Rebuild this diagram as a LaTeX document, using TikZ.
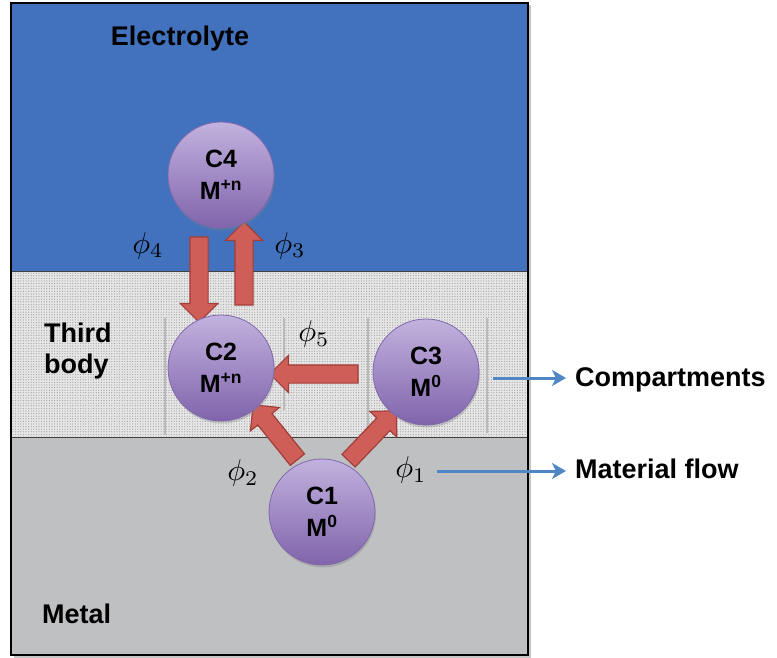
\documentclass[tikz,border=0pt]{standalone}
\usepackage[no-math]{fontspec}
\setmainfont{Liberation Sans}
\usetikzlibrary{shapes.arrows,shadows,calc,patterns.meta,arrows.meta}
\definecolor{elec}{RGB}{66,114,189}
\definecolor{metal}{RGB}{191,192,194}
\definecolor{third}{RGB}{230,230,230}
\definecolor{ctop}{RGB}{194,178,222}
\definecolor{cbot}{RGB}{128,100,172}
\definecolor{cline}{RGB}{128,104,172}
\definecolor{afill}{RGB}{207,94,88}
\definecolor{aline}{RGB}{160,62,58}
\definecolor{blueln}{RGB}{79,135,197}
\pgfdeclarelayer{bg}
\pgfdeclarelayer{mid}
\pgfsetlayers{bg,mid,main}
\newcommand{\philabel}[1]{\scalebox{3.0}{$\phi_{#1}$}}
\tikzset{
  compcircle/.style={circle, minimum size=106pt, inner sep=0pt, draw=cline, line width=0.8pt,
    top color=ctop, bottom color=cbot, align=center,
    font=\fontsize{25}{32}\selectfont\bfseries,
    drop shadow={opacity=0.35, shadow xshift=1pt, shadow yshift=-2.5pt}},
  blockarrow/.style={single arrow, draw=aline, fill=afill, line width=1.2pt,
    inner xsep=0pt, inner ysep=8.5pt, minimum width=0pt, single arrow head extend=9.5pt},
  lbl/.style={inner sep=0pt, font=\fontsize{27}{31}\selectfont\bfseries},
  philbl/.style={inner sep=0pt},
  bluearrow/.style={draw=blueln, line width=3pt, -{Stealth[length=14pt,width=16pt,inset=4pt]}},
  divider/.style={draw=gray!55, line width=1.6pt}
}
\newcommand{\flowarrow}[3]{%
  \path let \p1=(#1), \p2=(#2), \n1={atan2(\y2-\y1,\x2-\x1)}, \n2={veclen(\x2-\x1,\y2-\y1)} in
    node[blockarrow, minimum height=\n2, rotate=\n1] (#3) at ($(#1)!0.5!(#2)$) {};}
\begin{document}
\begin{tikzpicture}[x=1pt,y=-1pt]
\useasboundingbox (0,0) rectangle (777,658);
\begin{pgfonlayer}{bg}
  \fill[gray!45] (13.5,5.5) rectangle (530.5,657.5);
  \fill[metal] (11,437) rectangle (528,655);
  \fill[third] (11,271) rectangle (528,437);
  \fill[pattern={Dots[radius=0.6pt, distance=2.6pt]}, pattern color=gray!75] (11,271) rectangle (528,437);
  \fill[elec] (11,3) rectangle (528,271);
  \draw[black!75, line width=0.8pt] (11,271) -- (528,271);
  \draw[black!75, line width=1pt] (11,437) -- (528,437);
  \draw[black, line width=1.5pt] (11,3) rectangle (528,655);
  \draw[divider] (165,318) -- (165,435);
  \draw[divider] (284,318) -- (284,410);
  \draw[divider] (368,318) -- (368,435);
  \draw[divider] (487,318) -- (487,433);
\end{pgfonlayer}

% text labels
\node[lbl, anchor=base] (electrolyte) at (180,46) {Electrolyte};
\node[lbl, anchor=west, align=left] (thirdbody) at (44,351) {Third\\body};
\node[lbl, anchor=base west] (metal) at (42,623) {Metal};
\node[lbl, anchor=base west] (comptxt) at (575,386) {Compartments};
\node[lbl, anchor=base west] (mattxt) at (575,478) {Material flow};

% compartments
\node[compcircle] (c4) at (221,175) {C4\\M\textsuperscript{+n}};
\node[compcircle] (c2) at (221,368) {C2\\M\textsuperscript{+n}};
\node[compcircle] (c3) at (426,372) {C3\\M\textsuperscript{0}};
\node[compcircle] (c1) at (322,512) {C1\\M\textsuperscript{0}};

% flows
\coordinate (d4a) at ([xshift=-22pt,yshift=-4pt]c4.south);
\coordinate (d4b) at ([xshift=-22pt,yshift=-3pt]c2.north);
\coordinate (u3a) at ([xshift=23pt,yshift=5pt]c2.north);
\coordinate (u3b) at ([xshift=23pt,yshift=2pt]c4.south);
\coordinate (l5a) at ([xshift=-10pt,yshift=-2pt]c3.west);
\coordinate (l5b) at ([yshift=-6pt]c2.east);
\begin{pgfonlayer}{mid}
  \flowarrow{d4a}{d4b}{f4}
  \flowarrow{u3a}{u3b}{f3}
  \flowarrow{l5a}{l5b}{f5}
  \flowarrow{c1.114}{c2.-49}{f2}
  \flowarrow{c1.64}{c3.232}{f1}
\end{pgfonlayer}

% phi labels
\node[philbl] (phi4) at (148,246) {\philabel{4}};
\node[philbl] (phi3) at (290,246) {\philabel{3}};
\node[philbl] (phi5) at (314,334) {\philabel{5}};
\node[philbl] (phi2) at (243,473) {\philabel{2}};
\node[philbl] (phi1) at (411,470) {\philabel{1}};

% legend connectors
\coordinate (cstart) at (493,378);
\coordinate (mstart) at (437,471);
\draw[bluearrow, shorten >=9pt] (cstart) -- (cstart -| comptxt.west);
\draw[bluearrow, shorten >=9pt] (mstart) -- (mstart -| mattxt.west);
\end{tikzpicture}
\end{document}
